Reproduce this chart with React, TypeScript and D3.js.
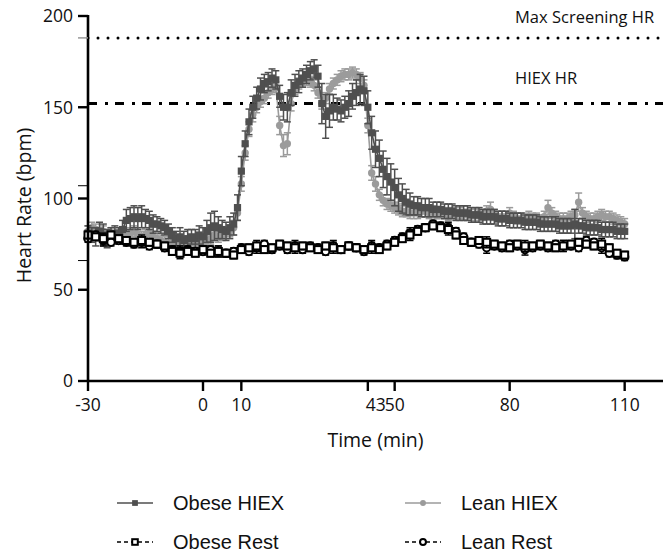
import React from 'react';
import * as d3 from 'd3';

// ---------- DATA ----------
const hiexTimes: number[] = d3.range(-30, 111); // one reading per minute
const obeseHiex: number[] = [
  81, 80, 79, 82, 80, 78, 80, 81, 80, 83,
  88, 89, 90, 89, 90, 89, 88, 86, 86, 85,
  84, 82, 80, 78, 79, 77, 78, 79, 78, 80,
  79, 82, 84, 85, 84, 83, 82, 84, 86, 95,
  115, 130, 142, 150, 155, 160, 163, 164, 166, 165,
  156, 150, 150, 158, 162, 164, 166, 168, 170, 171,
  167, 152, 145, 148, 150, 149, 148, 150, 152, 156,
  158, 160, 159, 150, 136, 127, 122, 116, 112, 109,
  106, 102, 100, 98, 97, 96, 96, 95, 95, 95,
  94, 94, 94, 93, 93, 93, 92, 92, 92, 92,
  91, 91, 91, 90, 90, 90, 90, 89, 89, 89,
  88, 88, 88, 88, 87, 87, 87, 87, 86, 86,
  86, 86, 86, 85, 85, 85, 85, 86, 85, 85,
  84, 84, 84, 84, 83, 83, 83, 83, 82, 82,
  82,
];
const obeseHiexErr: number[] = [
  4, 4, 5, 5, 6, 5, 4, 4, 4, 5,
  6, 6, 6, 6, 6, 5, 5, 5, 4, 4,
  4, 4, 4, 4, 5, 5, 5, 4, 5, 5,
  5, 6, 8, 8, 6, 5, 5, 6, 6, 7,
  8, 7, 7, 6, 6, 6, 5, 5, 5, 5,
  6, 7, 8, 7, 6, 6, 5, 5, 5, 5,
  6, 11, 12, 9, 7, 6, 6, 6, 7, 7,
  7, 8, 8, 9, 9, 10, 10, 10, 10, 10,
  10, 9, 8, 7, 6, 5, 5, 5, 5, 5,
  4, 4, 4, 4, 4, 4, 4, 4, 4, 4,
  4, 4, 4, 4, 4, 4, 4, 4, 4, 4,
  4, 4, 4, 4, 4, 4, 4, 4, 4, 4,
  4, 4, 4, 4, 4, 4, 4, 8, 4, 4,
  4, 4, 4, 4, 4, 4, 4, 4, 4, 4,
  4,
];
const leanHiex: number[] = [
  82, 84, 83, 81, 82, 80, 81, 79, 80, 81,
  80, 81, 82, 80, 79, 80, 81, 79, 78, 77,
  76, 75, 76, 75, 74, 76, 75, 76, 75, 77,
  76, 77, 78, 80, 79, 80, 81, 82, 84, 92,
  108, 125, 138, 146, 150, 153, 155, 158, 160, 161,
  140, 129, 130, 152, 160, 163, 164, 165, 164, 162,
  158, 152, 155, 160, 163, 165, 167, 168, 168, 169,
  168, 166, 162, 140, 114, 108, 102, 99, 97, 96,
  95, 94, 93, 93, 92, 92, 92, 93, 93, 92,
  93, 92, 92, 92, 91, 92, 91, 92, 91, 91,
  91, 91, 92, 91, 93, 94, 91, 90, 90, 90,
  92, 90, 89, 89, 89, 90, 89, 89, 88, 90,
  95, 92, 90, 89, 89, 89, 90, 91, 98, 92,
  90, 89, 89, 90, 91, 90, 90, 89, 88, 87,
  86,
];
const leanHiexErr: number[] = [
  3, 3, 3, 3, 3, 3, 3, 3, 3, 3,
  3, 3, 3, 3, 3, 3, 3, 3, 3, 3,
  3, 3, 3, 3, 3, 3, 3, 3, 3, 3,
  3, 3, 3, 3, 3, 3, 3, 3, 4, 4,
  4, 4, 4, 4, 3, 3, 3, 3, 3, 3,
  5, 6, 6, 4, 3, 3, 3, 3, 3, 3,
  3, 3, 3, 3, 3, 3, 3, 3, 3, 3,
  3, 3, 3, 4, 4, 4, 3, 3, 3, 3,
  3, 3, 3, 3, 3, 3, 3, 3, 3, 3,
  3, 3, 3, 3, 3, 3, 3, 3, 3, 3,
  3, 3, 3, 3, 3, 4, 3, 3, 3, 3,
  3, 3, 3, 3, 3, 3, 3, 3, 3, 3,
  4, 3, 3, 3, 3, 3, 3, 3, 5, 3,
  3, 3, 3, 3, 3, 3, 3, 3, 3, 3,
  3,
];
const restTimes: number[] = d3.range(-30, 111, 2); // one reading per two minutes
const obeseRest: number[] = [
  80, 79, 78, 80, 78, 77, 76, 77, 76, 75,
  74, 71, 70, 71, 70, 72, 70, 71, 70, 69,
  72, 73, 74, 72, 73, 75, 74, 73, 74, 73,
  72, 74, 73, 72, 74, 73, 72, 73, 72, 74,
  76, 78, 80, 82, 84, 85, 84, 83, 80, 77,
  76, 77, 76, 75, 74, 73, 75, 74, 74, 75,
  74, 73, 74, 75, 76, 75, 74, 75, 73, 70,
  69,
];
const leanRest: number[] = [
  78, 80, 77, 76, 77, 76, 75, 76, 74, 75,
  73, 72, 71, 72, 71, 71, 72, 71, 70, 71,
  73, 71, 73, 75, 72, 74, 72, 74, 72, 74,
  73, 71, 74, 72, 74, 73, 71, 74, 73, 75,
  77, 79, 81, 83, 84, 86, 85, 84, 82, 79,
  76, 75, 73, 74, 73, 75, 74, 72, 73, 74,
  73, 75, 74, 74, 73, 77, 76, 73, 70, 69,
  68,
];
const restErr: number[] = [2, 2, 3, 2, 2];

const xTickValues: number[] = [-30, 0, 10, 43, 50, 80, 110];
const yTickValues: number[] = [0, 50, 100, 150, 200];
const yMinorTicks: number[] = [66, 107];
const refValues: number[] = [188, 152];
const refLabels: string[] = ['Max Screening HR', 'HIEX HR'];
const legendLabels: string[] = ['Obese HIEX', 'Lean HIEX', 'Obese Rest', 'Lean Rest'];

// ---------- LAYOUT ----------
const W = 670;
const H = 552;
const x = d3.scaleLinear().domain([-30, 120]).range([88, 663]);
const y = d3.scaleLinear().domain([0, 200]).range([381, 16]);

const DARK = '#4f4f4f';
const LIGHT = '#9b9b9b';
const FONT = "'Open Sans', sans-serif";
const LFONT = "'Liberation Sans', Arial, sans-serif";

type Kind = 'fsquare' | 'fcircle' | 'osquare' | 'ocircle';

function Marker({ cx, cy, kind, color, s = 1 }: { cx: number; cy: number; kind: Kind; color: string; s?: number }) {
  if (kind === 'fsquare') return <rect x={cx - 3.6 * s} y={cy - 3.6 * s} width={7.2 * s} height={7.2 * s} fill={color} />;
  if (kind === 'fcircle') return <circle cx={cx} cy={cy} r={3.7 * s} fill={color} />;
  if (kind === 'osquare')
    return <rect x={cx - 3.5 * s} y={cy - 3.5 * s} width={7 * s} height={7 * s} fill="#fff" stroke="#000" strokeWidth={2} />;
  return <circle cx={cx} cy={cy} r={3.7 * s} fill="#fff" stroke="#000" strokeWidth={2} />;
}

function Series({ times, values, errs, color, kind, dashed }: {
  times: number[]; values: number[]; errs: number[]; color: string; kind: Kind; dashed?: boolean;
}) {
  const line = d3.line<number>().x((_, i) => x(times[i])).y((v) => y(v));
  return (
    <g>
      <path d={line(values) || ''} fill="none" stroke={color} strokeWidth={1.6} strokeDasharray={dashed ? '4 3' : undefined} />
      {values.map((v, i) => {
        const e = errs[i % errs.length];
        const cx = x(times[i]);
        return (
          <g key={'e' + i} stroke={color} strokeWidth={1.5}>
            <line x1={cx} x2={cx} y1={y(v - e)} y2={y(v + e)} />
            <line x1={cx - 3.5} x2={cx + 3.5} y1={y(v + e)} y2={y(v + e)} />
            <line x1={cx - 3.5} x2={cx + 3.5} y1={y(v - e)} y2={y(v - e)} />
          </g>
        );
      })}
      {values.map((v, i) => (
        <Marker key={'m' + i} cx={x(times[i])} cy={y(v)} kind={kind} color={color} />
      ))}
    </g>
  );
}

function LegendItem({ lx, ly, label, color, kind, dashed }: {
  lx: number; ly: number; label: string; color: string; kind: Kind; dashed?: boolean;
}) {
  return (
    <g>
      <line x1={lx} x2={lx + 36} y1={ly} y2={ly} stroke={dashed ? '#000' : color} strokeWidth={1.5}
        strokeDasharray={dashed ? '4 3' : undefined} />
      <Marker cx={lx + 18} cy={ly} kind={kind} color={color} s={0.8} />
      <text x={lx + 56} y={ly} dy="0.35em" fontFamily={LFONT} fontSize={20} fill="#111">{label}</text>
    </g>
  );
}

export default function App() {
  const x0 = x(-30);
  const x1 = x(120);
  return (
    <svg width={W} height={H} style={{ position: 'absolute', left: 0, top: 0, background: '#fff' }}>
      {/* reference lines */}
      <line x1={x0} x2={x1} y1={y(refValues[0])} y2={y(refValues[0])} stroke="#000" strokeWidth={3}
        strokeLinecap="round" strokeDasharray="0 10" />
      <line x1={x0} x2={x1} y1={y(refValues[1])} y2={y(refValues[1])} stroke="#000" strokeWidth={3}
        strokeDasharray="9 8 3 7" />
      <text x={515} y={y(refValues[0]) - 21} dy="0.35em" fontFamily={FONT} fontSize={16.5} fill="#111">{refLabels[0]}</text>
      <text x={515} y={y(refValues[1]) - 25} dy="0.35em" fontFamily={FONT} fontSize={16.5} fill="#111">{refLabels[1]}</text>

      {/* series */}
      <Series times={hiexTimes} values={leanHiex} errs={leanHiexErr} color={LIGHT} kind="fcircle" />
      <Series times={hiexTimes} values={obeseHiex} errs={obeseHiexErr} color={DARK} kind="fsquare" />
      <Series times={restTimes} values={leanRest} errs={restErr} color="#000" kind="ocircle" dashed />
      <Series times={restTimes} values={obeseRest} errs={restErr} color="#000" kind="osquare" dashed />

      {/* axes */}
      <line x1={x0} x2={x0} y1={y(200) - 1} y2={y(0) + 1} stroke="#000" strokeWidth={2.6} />
      <line x1={x0 - 1} x2={x1} y1={y(0)} y2={y(0)} stroke="#000" strokeWidth={2.6} />
      {yTickValues.map((v) => (
        <g key={'yt' + v}>
          <line x1={x0 - 10} x2={x0} y1={y(v)} y2={y(v)} stroke="#000" strokeWidth={2.4} />
          <text x={x0 - 15} y={y(v)} dy="0.36em" textAnchor="end" fontFamily={FONT} fontSize={17.5} fill="#111">{v}</text>
        </g>
      ))}
      {yMinorTicks.map((v) => (
        <line key={'ym' + v} x1={x0 - 10} x2={x0} y1={y(v)} y2={y(v)} stroke="#000" strokeWidth={1} />
      ))}
      <line x1={x0 - 10} x2={x0} y1={y(refValues[0])} y2={y(refValues[0])} stroke="#999" strokeWidth={1.5} />
      {xTickValues.map((v) => (
        <g key={'xt' + v}>
          <line x1={x(v)} x2={x(v)} y1={y(0)} y2={y(0) + 10} stroke="#000" strokeWidth={2.4} />
          <text x={v === 43 ? x(50) - 9 : x(v)} y={y(0) + 24} dy="0.36em" textAnchor={v === 43 ? 'end' : 'middle'}
            fontFamily={FONT} fontSize={17.5} fill="#111">{v}</text>
        </g>
      ))}
      <text x={(x(-30) + x(120)) / 2} y={440} dy="0.35em" textAnchor="middle" fontFamily={FONT} fontSize={19.5} fill="#111">Time (min)</text>
      <text transform={`translate(24,${(y(0) + y(200)) / 2 + 7}) rotate(-90)`} textAnchor="middle" dy="0.35em"
        fontFamily={FONT} fontSize={19.5} fill="#111">Heart Rate (bpm)</text>

      {/* legend */}
      <LegendItem lx={117} ly={503} label={legendLabels[0]} color={DARK} kind="fsquare" />
      <LegendItem lx={405} ly={503} label={legendLabels[1]} color={LIGHT} kind="fcircle" />
      <LegendItem lx={117} ly={542} label={legendLabels[2]} color="#000" kind="osquare" dashed />
      <LegendItem lx={405} ly={542} label={legendLabels[3]} color="#000" kind="ocircle" dashed />
    </svg>
  );
}
